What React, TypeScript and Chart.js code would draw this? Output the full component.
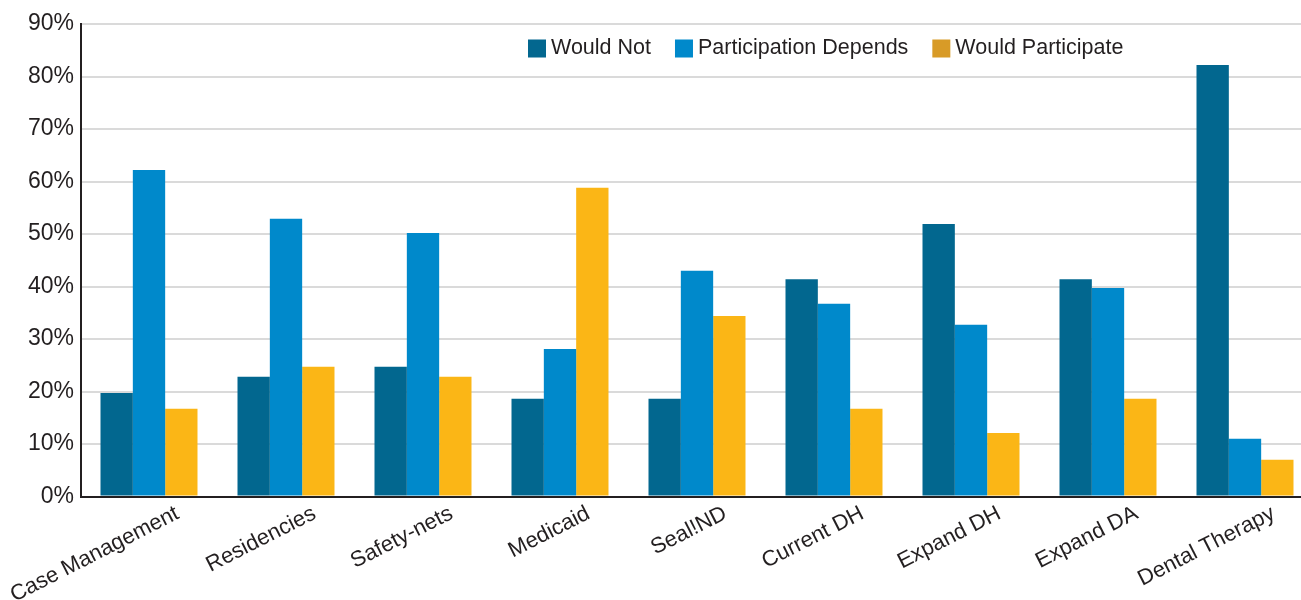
import React, { useEffect, useRef } from "react";
import { Chart, registerables } from "chart.js";

Chart.register(...registerables);

const FONT = '"Liberation Sans", Arial, Helvetica, sans-serif';
const TEXT_COLOR = "#231f20";

const categories = [
  "Case Management",
  "Residencies",
  "Safety-nets",
  "Medicaid",
  "Seal!ND",
  "Current DH",
  "Expand DH",
  "Expand DA",
  "Dental Therapy",
];

const seriesNames = ["Would Not", "Participation Depends", "Would Participate"];

const wouldNot = [19.7, 22.8, 24.7, 18.6, 18.6, 41.4, 51.9, 41.4, 82.2];
const participationDepends = [62.2, 52.9, 50.2, 28.1, 43.0, 36.7, 32.7, 39.7, 11.0];
const wouldParticipate = [16.7, 24.7, 22.8, 58.8, 34.4, 16.7, 12.1, 18.6, 7.0];

const barColors = ["#02678f", "#0089cb", "#fbb616"];
const legendColors = ["#03678f", "#0089cb", "#d89b27"];

// Key drawn across the top of the plot: square swatch followed by the series name.
const topLegend = {
  id: "topLegend",
  afterDraw(chart: Chart) {
    const ctx = chart.ctx;
    const box = 18;
    const textGap = 5;
    const itemGap = 24;
    const cy = 48.5;
    let x = 528;
    ctx.save();
    ctx.font = `21.5px ${FONT}`;
    ctx.textBaseline = "middle";
    ctx.textAlign = "left";
    seriesNames.forEach((name, i) => {
      ctx.fillStyle = legendColors[i];
      ctx.fillRect(x, cy - box / 2, box, box);
      const tx = x + box + textGap;
      ctx.fillStyle = TEXT_COLOR;
      ctx.fillText(name, tx, cy);
      x = tx + ctx.measureText(name).width + itemGap;
    });
    ctx.restore();
  },
};

export default function App() {
  const canvasRef = useRef<HTMLCanvasElement>(null);

  useEffect(() => {
    const canvas = canvasRef.current;
    if (!canvas) return;
    const chart = new Chart(canvas, {
      type: "bar",
      data: {
        labels: categories,
        datasets: [
          { label: seriesNames[0], data: wouldNot, backgroundColor: barColors[0] },
          { label: seriesNames[1], data: participationDepends, backgroundColor: barColors[1] },
          { label: seriesNames[2], data: wouldParticipate, backgroundColor: barColors[2] },
        ],
      },
      options: {
        responsive: false,
        animation: false,
        layout: { padding: { top: 24, right: 6.5, left: 0, bottom: 0 } },
        datasets: { bar: { barPercentage: 1, categoryPercentage: 0.708 } },
        plugins: {
          legend: { display: false },
          tooltip: { enabled: false },
        },
        scales: {
          x: {
            grid: { display: false },
            border: { display: true, color: TEXT_COLOR, width: 2, z: 1 },
            ticks: {
              autoSkip: false,
              minRotation: 27,
              maxRotation: 27,
              labelOffset: 28.5,
              padding: -4,
              color: TEXT_COLOR,
              font: { family: FONT, size: 22 },
            },
            afterFit(scale: any) {
              scale.height = 103.5;
              scale.paddingLeft = 0;
              scale.paddingRight = 0;
            },
          },
          y: {
            min: 0,
            max: 90,
            ticks: {
              stepSize: 10,
              padding: 6.5,
              color: TEXT_COLOR,
              font: { family: FONT, size: 23 },
              callback: (v: any) => `${v}%`,
            },
            grid: { color: "#dadada", lineWidth: 2, drawTicks: false },
            border: { display: true, color: TEXT_COLOR, width: 2, z: 1 },
            afterFit(scale: any) {
              scale.width = 80.5;
              scale.paddingTop = 0;
              scale.paddingBottom = 0;
            },
          },
        },
      },
      plugins: [topLegend],
    });
    return () => chart.destroy();
  }, []);

  return (
    <div
      style={{
        position: "fixed",
        left: 0,
        top: 0,
        width: 1320,
        height: 600,
        background: "#ffffff",
      }}
    >
      <canvas ref={canvasRef} width={1320} height={600} style={{ display: "block" }} />
    </div>
  );
}
